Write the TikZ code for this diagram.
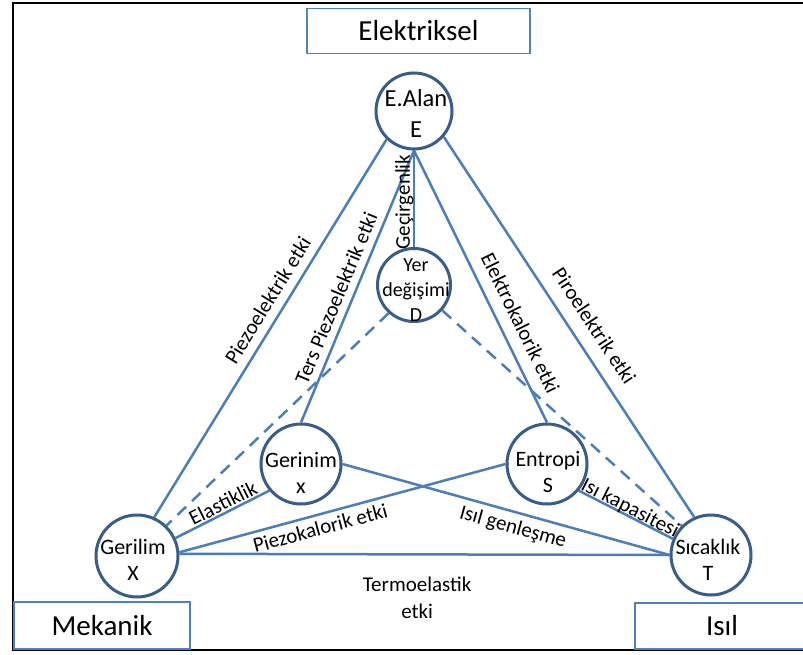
\documentclass[tikz,border=0pt]{standalone}
\usepackage{fontspec}
\setmainfont{Carlito}
\definecolor{linkblue}{RGB}{74,126,187}
\definecolor{ringblue}{RGB}{56,93,138}
\definecolor{boxblue}{RGB}{79,129,189}
\begin{document}
\begin{tikzpicture}[x=1pt,y=-1pt,
  link/.style={draw=linkblue, line width=2.5pt},
  dashlink/.style={link, dash pattern=on 12pt off 8pt},
  varcirc/.style={circle, draw=ringblue, line width=3pt, fill=white, inner sep=0pt},
  vartext/.style={align=center, inner sep=0pt, font=\fontsize{22}{26}\selectfont},
  areabox/.style={draw=boxblue, line width=1.2pt, fill=white, inner sep=0pt,
    font=\fontsize{29}{34}\selectfont},
  lab/.style={font=\fontsize{21}{27}\selectfont, inner sep=0pt}
]
\useasboundingbox (0,0) rectangle (803,655);
\fill[white] (0,0) rectangle (803,655);
% outer frame
\draw[black, line width=2.5pt] (13,3) rectangle (812,650);

% domain boxes
\node[areabox, minimum width=223pt, minimum height=45pt] (elk) at (418.5,31) {Elektriksel};
\node[areabox, minimum width=176pt, minimum height=47pt] (mek) at (102,625.5) {Mekanik};
\node[areabox, minimum width=174pt, minimum height=46pt] (isil) at (722,626) {Isıl};

% state variables
\node[varcirc, minimum size=76pt] (E) at (414,111) {};
\node[varcirc, minimum size=73pt] (D) at (414,285) {};
\node[varcirc, minimum size=80pt] (x) at (301,464) {};
\node[varcirc, minimum size=80pt] (S) at (547,464) {};
\node[varcirc, minimum size=82pt] (X) at (137,556) {};
\node[varcirc, minimum size=80pt] (T) at (711,555) {};

\node[vartext, font=\fontsize{24.5}{31}\selectfont] (Et) at (416,113) {E.Alan\\E};
\node[vartext, font=\fontsize{20}{25}\selectfont] (Dt) at (416,290) {Yer\\değişimi\\D};
\node[vartext] (xt) at (301,473) {Gerinim\\x};
\node[vartext] (St) at (548,472) {Entropi\\S};
\node[vartext] (Xt) at (133,560) {Gerilim\\X};
\node[vartext] (Tt) at (708,560) {Sıcaklık\\T};

% couplings
\draw[link] (E.226) -- node[lab, sloped, pos=0.449, yshift=17pt] {Piezoelektrik etki} (X.66);
\draw[link] (E.south) -- node[lab, sloped, pos=0.564, yshift=15.4pt] {Ters Piezoelektrik etki} (x.north);
\draw[link] (E.south) -- node[lab, rotate=90, pos=0.536, yshift=9.5pt] {Geçirgenlik} (D.north);
\draw[link] (E.south) -- node[lab, sloped, pos=0.666, yshift=20pt] {Elektrokalorik etki} (S.north);
\draw[link] (E.-41) -- node[lab, sloped, pos=0.528, yshift=22pt] {Piroelektrik etki} (T.114);
\draw[dashlink] (D.228) -- (X.46);
\draw[dashlink] (D.-42) -- (T.135);
\draw[link] (x.220) -- node[lab, sloped, pos=0.446, yshift=10pt] {Elastiklik} (X.25);
\draw[link] (X.5) -- node[lab, sloped, pos=0.421, yshift=-13.3pt] {Piezokalorik etki} (S.west);
\draw[link] (x.east) -- node[lab, sloped, pos=0.534, yshift=-15.7pt] {Isıl genleşme} (T.west);
\draw[link] (S.-40) -- node[lab, sloped, pos=0.508, yshift=7.4pt] {Isı kapasitesi} (T.157);
\draw[link] (X.3) -- node[lab, align=center, pos=0.485, yshift=-43pt] {Termoelastik\\etki} (T.west);
\end{tikzpicture}
\end{document}
